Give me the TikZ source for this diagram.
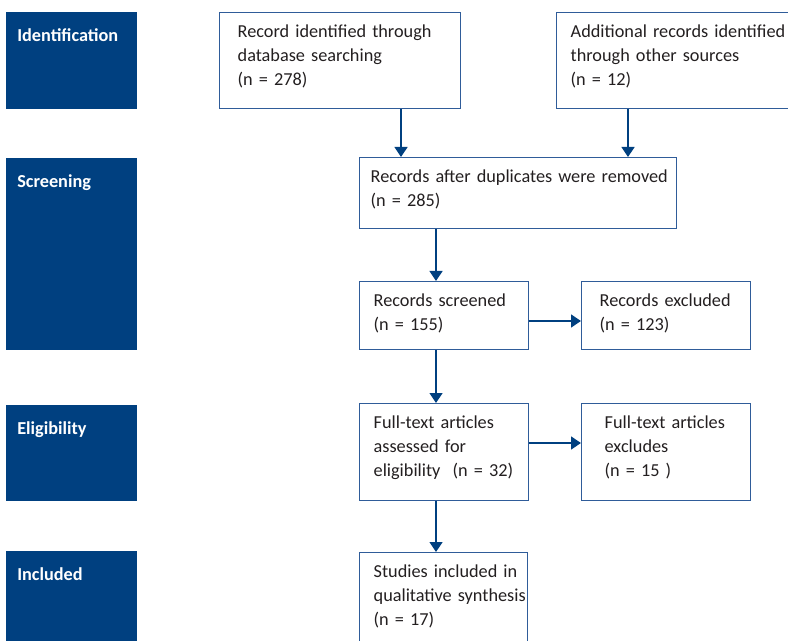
\documentclass[tikz,border=0pt]{standalone}
\usepackage{fontspec}
\setmainfont{Carlito}
\usetikzlibrary{arrows.meta}
\newdimen\px
\px=0.75pt
\definecolor{stageblue}{RGB}{0,64,128}
\definecolor{edgeblue}{RGB}{47,92,153}
\definecolor{inkgray}{RGB}{35,31,32}

\begin{document}
\begin{tikzpicture}[x=0.75pt, y=-0.75pt,
    stage/.style={fill=stageblue, anchor=north west, text=white,
        font=\bfseries\fontsize{13.7}{18}\selectfont, align=left,
        inner xsep=11\px, inner ysep=0pt, text width=109\px, text height=29\px},
    recbox/.style={draw=edgeblue, line width=1pt, anchor=north west, text=inkgray,
        font=\fontsize{13.7}{18}\selectfont, align=left,
        execute at begin node={\hyphenpenalty=10000\relax},
        inner ysep=0pt, text height=25\px},
    flow/.style={draw=stageblue, line width=1pt, -{Triangle[length=7.5pt, width=9.75pt]}}]
    \useasboundingbox (0,0) rectangle (788,641);
    \clip (0,0) rectangle (788,641);

    % stages on the left
    \node[stage, text depth=68\px] (ident) at (6,12) {Identification};
    \node[stage, text depth=163\px] (screen) at (6,158) {Screening};
    \node[stage, text depth=67\px] (elig) at (6,405) {Eligibility};
    \node[stage, text depth=68\px] (incl) at (6,551) {Included};

    % records
    \node[recbox, inner xsep=18\px, text width=205\px, text depth=71\px] (db) at (219,12)
        {Record identified through\\database searching\\(n = 278)};
    \node[recbox, inner xsep=14\px, text width=213\px, text depth=71\px] (other) at (556,12)
        {Additional~records~identified\\through other sources\\(n = 12)};
    \node[recbox, inner xsep=11\px, text width=295\px, text depth=46\px] (dedup) at (359,157)
        {Records~after~duplicates~were~removed\\(n = 285)};
    \node[recbox, inner xsep=14\px, text width=141\px, text depth=43\px] (screened) at (359,281)
        {Records screened\\(n = 155)};
    \node[recbox, inner xsep=18\px, text width=133\px, text depth=43\px] (excluded) at (581,281)
        {Records~excluded\\(n = 123)};
    \node[recbox, inner xsep=14\px, text width=141\px, text depth=72\px] (fulltext) at (359,403)
        {Full-text articles\\assessed for\\eligibility\ \ (n~=~32)};
    \node[recbox, inner xsep=23\px, text width=123\px, text depth=72\px] (ftexcluded) at (581,403)
        {Full-text~articles\\excludes\\(n = 15\ )};
    \node[recbox, inner xsep=14\px, text width=140\px, text depth=72\px] (included) at (359,552)
        {Studies~included~in\\qualitative~synthesis\\(n = 17)};

    % arrows
    \coordinate (dbdrop) at (401,0);
    \coordinate (otherdrop) at (628,0);
    \coordinate (maindrop) at (436,0);
    \coordinate (screenrow) at (0,321);
    \coordinate (fullrow) at (0,443);
    \draw[flow] (db.south -| dbdrop) -- (dedup.north -| dbdrop);
    \draw[flow] (other.south -| otherdrop) -- (dedup.north -| otherdrop);
    \draw[flow] (dedup.south -| maindrop) -- (screened.north -| maindrop);
    \draw[flow] (screened.south -| maindrop) -- (fulltext.north -| maindrop);
    \draw[flow] (fulltext.south -| maindrop) -- (included.north -| maindrop);
    \draw[flow] (screened.east |- screenrow) -- (excluded.west |- screenrow);
    \draw[flow] (fulltext.east |- fullrow) -- (ftexcluded.west |- fullrow);
\end{tikzpicture}
\end{document}
